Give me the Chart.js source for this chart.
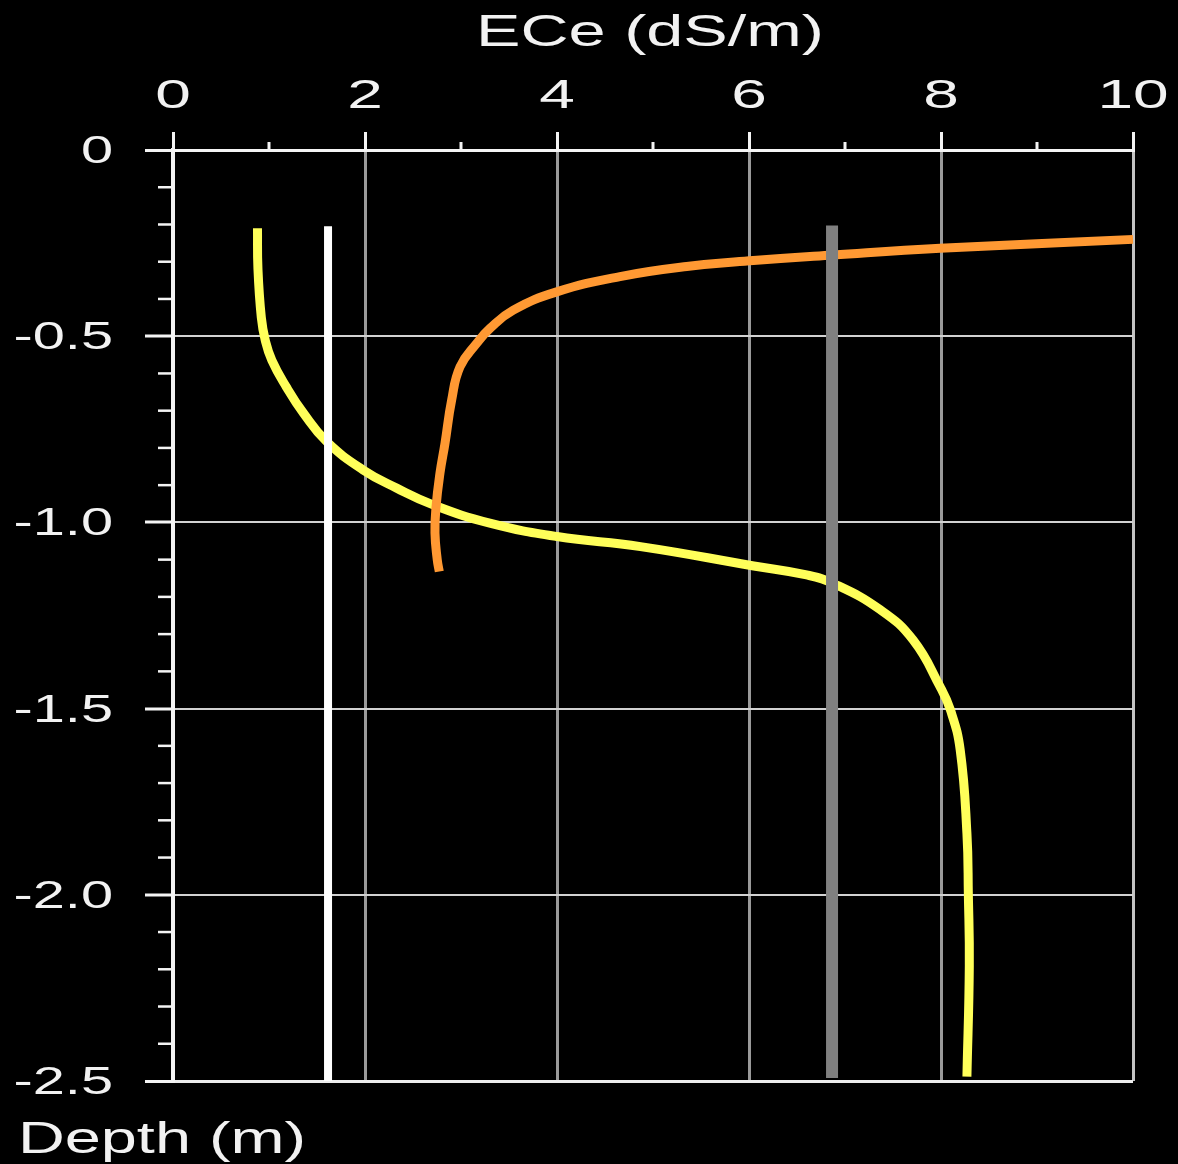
<!DOCTYPE html>
<html>
<head>
<meta charset="utf-8">
<title>ECe vs Depth</title>
<script src="https://cdn.jsdelivr.net/npm/chart.js@4/dist/chart.umd.min.js"></script>
<style>
  html, body { margin: 0; padding: 0; background: #000; }
  #wrap { width: 1178px; height: 1164px; position: relative; }
</style>
</head>
<body>
<div id="wrap"><canvas id="c"></canvas></div>
<script>
// Axis ticks
const xTickValues = [0, 2, 4, 6, 8, 10];
const xTickLabels = ['0', '2', '4', '6', '8', '10'];
const xMinorValues = [1, 3, 5, 7, 9];
const yTickValues = [0, -0.5, -1.0, -1.5, -2.0, -2.5];
const yTickLabels = ['0', '-0.5', '-1.0', '-1.5', '-2.0', '-2.5'];
const yMinorValues = [-0.1, -0.2, -0.3, -0.4, -0.6, -0.7, -0.8, -0.9, -1.1, -1.2, -1.3, -1.4,
                      -1.6, -1.7, -1.8, -1.9, -2.1, -2.2, -2.3, -2.4];

// Salinity profiles: ECe (dS/m) against depth (m)
const yellowEce   = [0.88, 0.885, 0.92, 0.96, 1.03, 1.18, 1.36, 1.60, 1.98, 2.33, 2.71, 3.30, 4.00, 4.87,
                     6.05, 6.60, 6.88, 7.37, 7.71, 7.99, 8.10, 8.20, 8.27, 8.285, 8.295, 8.27];
const yellowDepth = [-0.21, -0.32, -0.45, -0.51, -0.565, -0.636, -0.707, -0.783, -0.859, -0.908, -0.953,
                     -1.002, -1.038, -1.065, -1.117, -1.141, -1.164, -1.235, -1.316, -1.441, -1.505,
                     -1.611, -1.835, -2.0, -2.19, -2.488];

const orangeEce   = [2.774, 2.753, 2.729, 2.74, 2.781, 2.833, 2.903, 2.99, 3.164, 3.302, 3.545, 3.997,
                     4.656, 5.351, 6.045, 6.878, 7.99, 10.0];
const orangeDepth = [-1.132, -1.101, -1.029, -0.958, -0.868, -0.788, -0.671, -0.582, -0.519, -0.479,
                     -0.43, -0.381, -0.34, -0.313, -0.297, -0.282, -0.264, -0.24];

const whiteEce   = [1.615, 1.615];
const whiteDepth = [-0.205, -2.5];

const grayEce   = [6.865, 6.865];
const grayDepth = [-0.203, -2.492];

const toPoints = (xs, ys) => xs.map((v, i) => ({ x: v, y: ys[i] }));

function stretchedText(ctx, text, x, y, sx, align, font) {
  ctx.save();
  ctx.translate(x, y);
  ctx.scale(sx, 1);
  ctx.font = font;
  ctx.textAlign = align;
  ctx.textBaseline = 'alphabetic';
  ctx.fillText(text, 0, 0);
  ctx.restore();
}

const axisDecor = {
  id: 'axisDecor',
  beforeDraw(chart) {
    const ctx = chart.ctx;
    ctx.save();
    ctx.fillStyle = '#000';
    ctx.fillRect(0, 0, chart.width, chart.height);
    ctx.restore();
  },
  afterDraw(chart) {
    const { ctx, chartArea: a } = chart;
    const xs = chart.scales.x, ys = chart.scales.y;
    ctx.save();
    ctx.strokeStyle = '#f4f4f4';
    ctx.lineCap = 'butt';
    // minor ticks on the top axis
    ctx.lineWidth = 3;
    xMinorValues.forEach(v => {
      const px = xs.getPixelForValue(v);
      ctx.beginPath(); ctx.moveTo(px, a.top - 8); ctx.lineTo(px, a.top); ctx.stroke();
    });
    // minor ticks on the depth axis
    ctx.lineWidth = 2.5;
    yMinorValues.forEach(v => {
      const py = ys.getPixelForValue(v);
      ctx.beginPath(); ctx.moveTo(a.left - 15, py); ctx.lineTo(a.left, py); ctx.stroke();
    });
    // tick labels
    ctx.fillStyle = '#f2f2f2';
    xTickValues.forEach((v, i) => {
      stretchedText(ctx, xTickLabels[i], xs.getPixelForValue(v), 108, 1.6, 'center', '40px "Liberation Sans"');
    });
    yTickValues.forEach((v, i) => {
      stretchedText(ctx, yTickLabels[i], 113, ys.getPixelForValue(v) + 13, 1.52, 'right', '38px "Liberation Sans"');
    });
    // axis titles
    stretchedText(ctx, 'ECe (dS/m)', (a.left + a.right) / 2 - 3, 46, 1.48, 'center', '45px "Liberation Sans"');
    stretchedText(ctx, 'Depth (m)', 18, 1153, 1.44, 'left', '45px "Liberation Sans"');
    ctx.restore();
  }
};

const lineSet = (xs, ys, color, width, order, tension, join) => ({
  data: toPoints(xs, ys),
  borderColor: color,
  backgroundColor: color,
  borderWidth: width,
  pointRadius: 0,
  pointHoverRadius: 0,
  tension: tension,
  borderCapStyle: 'butt',
  borderJoinStyle: join,
  fill: false,
  clip: false,
  order: order
});

new Chart(document.getElementById('c'), {
  type: 'line',
  data: {
    datasets: [
      lineSet(yellowEce, yellowDepth, '#ffff5a', 9, 4, 0.45, 'round'),
      lineSet(orangeEce, orangeDepth, '#ff9933', 9, 3, 0.45, 'round'),
      lineSet(whiteEce, whiteDepth, '#ffffff', 8, 2, 0, 'miter'),
      lineSet(grayEce, grayDepth, '#808080', 12, 1, 0, 'miter')
    ]
  },
  options: {
    responsive: true,
    maintainAspectRatio: false,
    animation: false,
    devicePixelRatio: 1,
    layout: { padding: { left: 0, top: 0, right: 45, bottom: 83 } },
    plugins: { legend: { display: false }, tooltip: { enabled: false } },
    scales: {
      x: {
        type: 'linear',
        position: 'top',
        min: 0, max: 10,
        afterFit(scale) { scale.height = 150; },
        afterBuildTicks(scale) { scale.ticks = xTickValues.map(v => ({ value: v })); },
        ticks: { display: false },
        border: { display: true, color: '#f4f4f4', width: 3 },
        grid: {
          drawOnChartArea: true,
          drawTicks: true,
          tickLength: 18,
          tickWidth: 3,
          tickColor: '#f4f4f4',
          lineWidth: 3,
          color: ctx => {
            const v = ctx.tick && ctx.tick.value;
            if (v === 0) return '#f4f4f4';
            if (v === 10) return '#c4c4c4';
            return '#9a9a9a';
          }
        }
      },
      y: {
        type: 'linear',
        position: 'left',
        min: -2.5, max: 0,
        afterFit(scale) { scale.width = 173; },
        afterBuildTicks(scale) { scale.ticks = yTickValues.map(v => ({ value: v })); },
        ticks: { display: false },
        border: { display: true, color: '#f4f4f4', width: 4 },
        grid: {
          drawOnChartArea: true,
          drawTicks: true,
          tickLength: 28,
          tickWidth: 3,
          tickColor: '#f4f4f4',
          lineWidth: ctx => {
            const v = ctx.tick && ctx.tick.value;
            return (v === -2.5 || v === 0) ? 3 : 2;
          },
          color: ctx => {
            const v = ctx.tick && ctx.tick.value;
            if (v === -2.5 || v === 0) return '#eeeeee';
            return '#d2d2d2';
          }
        }
      }
    }
  },
  plugins: [axisDecor]
});
</script>
</body>
</html>
